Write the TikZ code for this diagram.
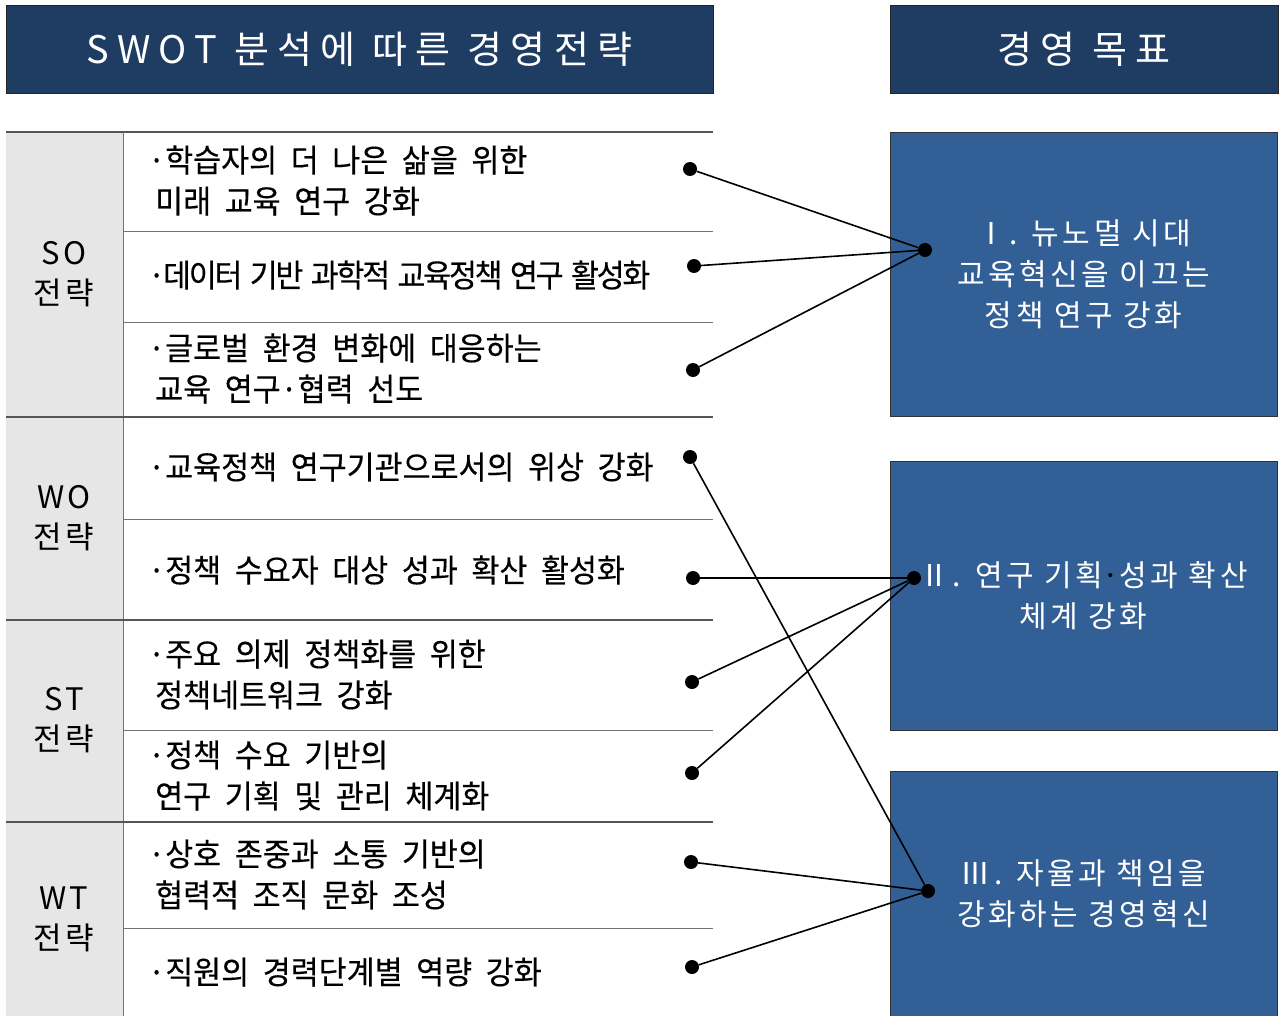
\documentclass[tikz,border=0pt]{standalone}
\usepackage{fontspec}
\setmainfont{Noto Sans CJK KR}
\newfontfamily\itemfont{Noto Sans CJK KR}[FakeStretch=0.95, WordSpace=2, FakeBold=0.3]
\newfontfamily\tightfont{Noto Sans CJK KR}[FakeStretch=0.95, WordSpace=1.6, FakeBold=0.3, LetterSpace=-7]
\usetikzlibrary{positioning}
\definecolor{navy}{HTML}{1F3C63}
\definecolor{goalblue}{HTML}{326096}
\definecolor{side}{HTML}{E6E6E6}
\definecolor{rule}{HTML}{555555}
\tikzset{
  hdr/.style={draw=black!85, fill=navy, text=white, inner sep=0pt, font=\fontsize{38}{40}\selectfont\addfontfeature{LetterSpace=22}},
  grp/.style={align=center, inner sep=0pt, font=\fontsize{31}{40}\selectfont\addfontfeature{LetterSpace=10}},
  item/.style={anchor=west, align=left, inner sep=0pt, font=\itemfont\fontsize{32}{41}\selectfont},
  tight/.style={font=\tightfont\fontsize{32}{41}\selectfont},
  goal/.style={draw=black!80, fill=goalblue, text=white, align=center, inner sep=0pt, font=\fontsize{30}{41}\selectfont\addfontfeature{LetterSpace=12}},
  dot/.style={circle, fill=black, inner sep=0pt, minimum size=14pt},
  link/.style={line width=1.6pt, draw=black},
  grpsep/.style={draw=rule, line width=1.2pt},
  itemsep/.style={draw=black!55, line width=0.8pt}
}

\begin{document}
\begin{tikzpicture}[x=1pt, y=-1pt]
  \useasboundingbox (0,0) rectangle (1279,1016);
  \begin{scope}
  \clip (0,0) rectangle (1279,1016);
  % headers
  \node[hdr, minimum width=707pt, minimum height=88pt] (swot) at (359.5,49) {SWOT 분석에 따른 경영전략};
  \node[hdr, minimum width=388pt, minimum height=88pt] (goals) at (1084,49) {경영 목표};

  % strategy table
  \fill[side] (6,132) rectangle (123,1016);
  \draw[grpsep] (6,132) -- (713,132);
  \draw[itemsep] (123,132) -- (123,1016);
  \foreach \y in {231,322,519,730,928}
    \draw[itemsep] (123,\y) -- (713,\y);
  \foreach \y in {417,620,822}
    \draw[grpsep] (6,\y) -- (713,\y);

  \node[grp] (so) at (64,274.5) {SO\\전략};
  \node[grp] (wo) at (64,518.5) {WO\\전략};
  \node[grp] (st) at (64,720.5) {ST\\전략};
  \node[grp] (wt) at (64,919) {WT\\전략};

  \node[item] (i1) at (148,180.5) {·학습자의 더 나은 삶을 위한\\\hspace{7pt}미래 교육 연구 강화};
  \node[item, tight] (i2) at (148,275) {·데이터 기반 과학적 교육정책 연구 활성화};
  \node[item] (i3) at (148,368.5) {·글로벌 환경 변화에 대응하는\\\hspace{7pt}교육 연구·협력 선도};
  \node[item] (i4) at (148,467) {·교육정책 연구기관으로서의 위상 강화};
  \node[item] (i5) at (148,570) {·정책 수요자 대상 성과 확산 활성화};
  \node[item] (i6) at (148,674.5) {·주요 의제 정책화를 위한\\\hspace{7pt}정책네트워크 강화};
  \node[item] (i7) at (148,775.5) {·정책 수요 기반의\\\hspace{7pt}연구 기획 및 관리 체계화};
  \node[item] (i8) at (148,874.5) {·상호 존중과 소통 기반의\\\hspace{7pt}협력적 조직 문화 조성};
  \node[item] (i9) at (148,972) {·직원의 경력단계별 역량 강화};

  % goal boxes
  \node[goal, minimum width=387pt, minimum height=284pt] (g1) at (1083.5,274) {Ⅰ. 뉴노멀 시대\\교육혁신을 이끄는\\정책 연구 강화};
  \node[goal, minimum width=387pt, minimum height=269pt] (g2) at (1083.5,595.5) {Ⅱ. 연구 기획{\color{black}·}성과 확산\\체계 강화};
  \node[goal, minimum width=387pt, minimum height=246pt] (g3) at (1083.5,894) {Ⅲ. 자율과 책임을\\강화하는 경영혁신};

  % end points
  \node[dot] (d1) at (690,169) {};
  \node[dot] (d2) at (694,266) {};
  \node[dot] (d3) at (693,370) {};
  \node[dot] (d4) at (690,457) {};
  \node[dot] (d5) at (693,578) {};
  \node[dot] (d6) at (692,682) {};
  \node[dot] (d7) at (692,773) {};
  \node[dot] (d8) at (691,862) {};
  \node[dot] (d9) at (692,967) {};
  \node[dot] (r1) at (925,250) {};
  \node[dot] (r2) at (914,578) {};
  \node[dot] (r3) at (928,891) {};

  % links
  \foreach \d in {d1,d2,d3}
    \draw[link] (\d) -- (r1);
  \foreach \d in {d5,d6,d7}
    \draw[link] (\d) -- (r2);
  \foreach \d in {d4,d8,d9}
    \draw[link] (\d) -- (r3);
  \end{scope}
\end{tikzpicture}
\end{document}
